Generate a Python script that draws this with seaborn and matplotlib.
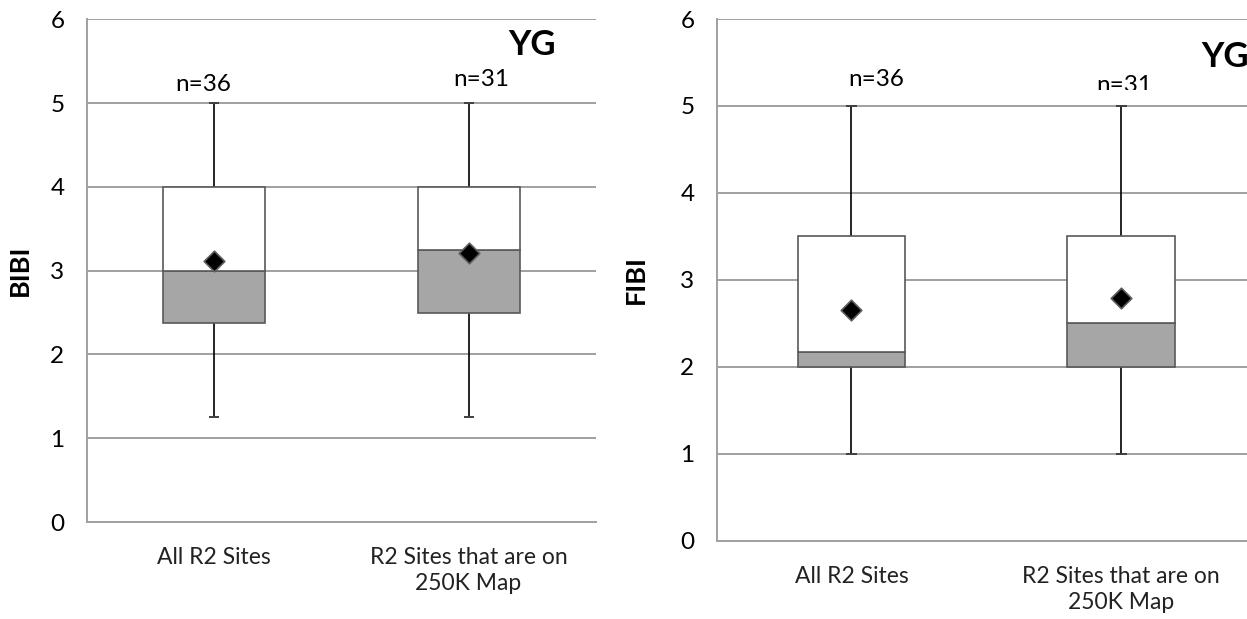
import numpy as np
import pandas as pd
import seaborn as sns
import matplotlib
matplotlib.use("Agg")
import matplotlib.pyplot as plt
from matplotlib.transforms import Bbox, TransformedBbox

# ---- data -------------------------------------------------------------
categories = ["All R2 Sites", "R2 Sites that are on\n250K Map"]
counts = ["n=36", "n=31"]

bibi_min = [1.25, 1.25]
bibi_q1 = [2.375, 2.5]
bibi_median = [3.0, 3.25]
bibi_q3 = [4.0, 4.0]
bibi_max = [5.0, 5.0]
bibi_mean = [3.11, 3.21]

fibi_min = [1.0, 1.0]
fibi_q1 = [2.0, 2.0]
fibi_median = [2.17, 2.5]
fibi_q3 = [3.5, 3.5]
fibi_max = [5.0, 5.0]
fibi_mean = [2.65, 2.79]

region_label = "YG"

# ---- style ------------------------------------------------------------
sns.set_style("white")
plt.rcParams["font.family"] = ["Lato", "DejaVu Sans"]

GRID = "#a0a0a0"
BOX_EDGE = "#595959"
LOW_FILL = "#a6a6a6"
TXT = "black"
FS = 17.5

fig = plt.figure(figsize=(12.47, 6.19), dpi=100)
ax_l = fig.add_axes([0.0695, 0.1567, 0.4084, 0.8121])
ax_r = fig.add_axes([0.5747, 0.1265, 0.4325, 0.8428])


def draw_panel(ax, mins, q1, med, q3, maxs, means, ylabel):
    df = pd.DataFrame({
        "site": categories,
        "lower": np.array(med) - np.array(q1),
        "upper": np.array(q3) - np.array(med),
        "mean": means,
    })
    # lower half of the box (Q1 -> median), grey
    sns.barplot(data=df, x="site", y="lower", bottom=q1, width=0.4,
                color=LOW_FILL, saturation=1, edgecolor=BOX_EDGE,
                linewidth=1.2, errorbar=None, ax=ax, zorder=3)
    # upper half of the box (median -> Q3), white
    sns.barplot(data=df, x="site", y="upper", bottom=med, width=0.4,
                color="white", saturation=1, edgecolor=BOX_EDGE,
                linewidth=1.2, errorbar=None, ax=ax, zorder=3)

    pos = np.arange(len(categories))
    # whiskers and caps
    ax.vlines(pos, mins, q1, color="black", lw=1.2, zorder=2)
    ax.vlines(pos, q3, maxs, color="black", lw=1.2, zorder=2)
    ax.hlines(mins, pos - 0.02, pos + 0.02, color="#404040", lw=1.4, zorder=2)
    ax.hlines(maxs, pos - 0.02, pos + 0.02, color="#404040", lw=1.4, zorder=2)

    # means
    sns.stripplot(data=df, x="site", y="mean", jitter=False, marker="D",
                  size=10.5, color="black", edgecolor="#606060", linewidth=1.2,
                  ax=ax, zorder=5)

    ax.set_ylim(0, 6)
    ax.set_xlim(-0.5, 1.5)
    ax.set_yticks(range(0, 7))
    ax.yaxis.grid(True, color=GRID, lw=1.4)
    ax.set_axisbelow(True)
    for s in ["top", "right"]:
        ax.spines[s].set_visible(False)
    for s in ["left", "bottom"]:
        ax.spines[s].set_color(GRID)
        ax.spines[s].set_linewidth(1.4)

    ax.tick_params(axis="y", which="major", direction="out", length=6,
                   width=1.2, color=GRID, labelsize=FS, labelcolor=TXT, pad=10)
    ax.tick_params(axis="x", which="major", length=0, labelsize=FS - 1,
                   labelcolor="#222222", pad=18)
    ax.set_xticks(pos)
    ax.set_xticklabels(categories, ha="center", linespacing=1.3)
    ax.set_xticks([-0.5, 0.5, 1.5], minor=True)
    ax.tick_params(axis="x", which="minor", direction="out", length=6,
                   width=1.2, color=GRID)
    ax.set_xlabel("")
    ax.set_ylabel(ylabel, fontsize=FS + 2, fontweight="bold", color=TXT)


draw_panel(ax_l, bibi_min, bibi_q1, bibi_median, bibi_q3, bibi_max, bibi_mean, "BIBI")
draw_panel(ax_r, fibi_min, fibi_q1, fibi_median, fibi_q3, fibi_max, fibi_mean, "FIBI")

ax_l.yaxis.set_label_coords(-0.107, 0.5)
ax_r.yaxis.set_label_coords(-0.127, 0.5)

# sample sizes and region tag
ax_l.text(-0.043, 5.22, counts[0], ha="center", va="center", fontsize=FS, color=TXT)
ax_l.text(1.05, 5.28, counts[1], ha="center", va="center", fontsize=FS, color=TXT)
ax_l.text(1.249, 5.69, region_label, ha="center", va="center",
          fontsize=25, fontweight="bold", color="black")

ax_r.text(0.091, 5.30, counts[0], ha="center", va="center", fontsize=FS, color=TXT)
t = ax_r.text(1.01, 5.24, counts[1], ha="center", va="center", fontsize=FS, color=TXT)
t.set_clip_box(TransformedBbox(Bbox([[0.5, 5.18], [1.5, 6.5]]), ax_r.transData))
t.set_clip_on(True)
ax_r.text(1.385, 5.56, region_label, ha="center", va="center",
          fontsize=25, fontweight="bold", color="black", clip_on=False)

fig.savefig("out.png", dpi=100, facecolor="white")
